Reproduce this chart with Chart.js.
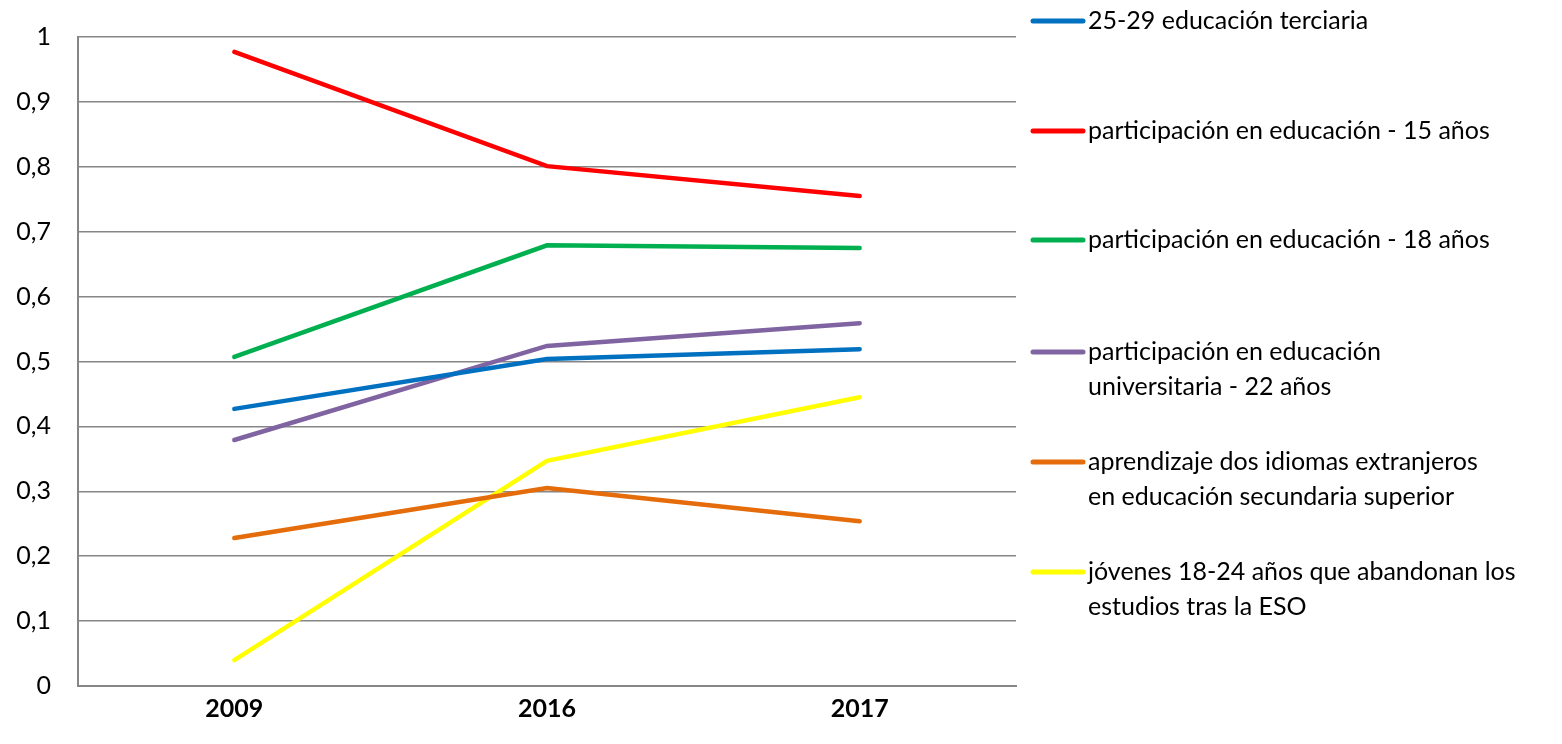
<!DOCTYPE html>
<html>
<head>
<meta charset="utf-8">
<script src="https://cdn.jsdelivr.net/npm/chart.js@4/dist/chart.umd.min.js"></script>
<style>
	html, body { margin: 0; padding: 0; background: #fff; }
	#wrap { width: 1562px; height: 744px; }
</style>
</head>
<body>
<div id="wrap"><canvas id="chart"></canvas></div>
<script>
const years = ['2009', '2016', '2017'];
const yTicks = [0, 0.1, 0.2, 0.3, 0.4, 0.5, 0.6, 0.7, 0.8, 0.9, 1];

const terciaria = [0.427, 0.504, 0.519];
const part15 = [0.977, 0.801, 0.755];
const part18 = [0.507, 0.679, 0.675];
const univ22 = [0.379, 0.524, 0.559];
const idiomas = [0.228, 0.305, 0.254];
const abandono = [0.040, 0.347, 0.445];

const seriesNames = [
	['25-29 educación terciaria'],
	['participación en educación - 15 años'],
	['participación en educación - 18 años'],
	['participación en educación', 'universitaria - 22 años'],
	['aprendizaje dos idiomas extranjeros', 'en educación secundaria superior'],
	['jóvenes 18-24 años que abandonan los', 'estudios tras la ESO']
];
const seriesColors = ['#0070C0', '#FF0000', '#00B050', '#8064A2', '#E46C0A', '#FFFF00'];
const seriesData = [terciaria, part15, part18, univ22, idiomas, abandono];

const FONT = 'Lato, "Open Sans", sans-serif';

// legend drawn by hand, Excel style: short line then wrapped text
const sideLegend = {
	id: 'sideLegend',
	afterDraw: (chart) => {
		const ctx = chart.ctx;
		const x0 = 1033, x1 = 1083, tx = 1088;
		const tops = [21, 131, 240, 352, 462, 572];
		ctx.save();
		ctx.font = '25px ' + FONT;
		ctx.textBaseline = 'middle';
		ctx.textAlign = 'left';
		seriesNames.forEach((lines, i) => {
			const y = tops[i];
			ctx.strokeStyle = seriesColors[i];
			ctx.lineWidth = 5;
			ctx.lineCap = 'round';
			ctx.beginPath();
			ctx.moveTo(x0, y);
			ctx.lineTo(x1, y);
			ctx.stroke();
			ctx.fillStyle = '#000';
			lines.forEach((t, j) => ctx.fillText(t, tx, y + j * 35));
		});
		ctx.restore();
	}
};

const ctx = document.getElementById('chart').getContext('2d');
new Chart(ctx, {
	type: 'line',
	data: {
		labels: years,
		datasets: seriesData.map((d, i) => ({
			label: seriesNames[i].join(' '),
			data: d,
			borderColor: seriesColors[i],
			backgroundColor: seriesColors[i],
			borderWidth: 4.5,
			borderCapStyle: 'round',
			pointRadius: 0,
			tension: 0,
			fill: false
		}))
	},
	options: {
		responsive: true,
		maintainAspectRatio: false,
		animation: false,
		layout: {
			padding: { left: 0, right: 546, top: 37, bottom: 0 }
		},
		plugins: {
			legend: { display: false },
			tooltip: { enabled: false }
		},
		scales: {
			x: {
				offset: true,
				grid: { display: false, drawTicks: false },
				border: { display: true, color: '#868686', width: 2 },
				ticks: {
					padding: 8,
					color: '#000',
					font: { family: FONT, size: 25, weight: 'bold' }
				},
				afterFit: (scale) => {
					scale.height = 58;
					scale.paddingLeft = 0;
					scale.paddingRight = 0;
				}
			},
			y: {
				min: 0,
				max: 1,
				afterBuildTicks: (scale) => { scale.ticks = yTicks.map(v => ({ value: v })); },
				grid: { color: '#868686', lineWidth: 1.5, drawTicks: false },
				border: { display: true, color: '#868686', width: 2 },
				ticks: {
					padding: 27,
					color: '#000',
					font: { family: FONT, size: 25 },
					callback: (v) => String(Number(v.toFixed(1))).replace('.', ',')
				},
				afterFit: (scale) => {
					scale.width = 78;
					scale.paddingTop = 0;
					scale.paddingBottom = 0;
				}
			}
		}
	},
	plugins: [sideLegend]
});
</script>
</body>
</html>
